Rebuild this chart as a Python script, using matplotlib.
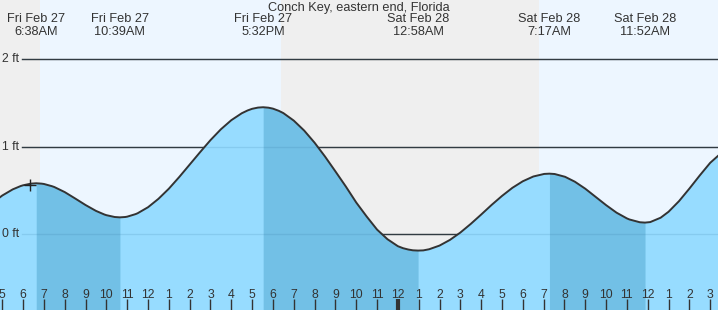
import matplotlib
matplotlib.use('Agg')
from matplotlib import pyplot as plt
import numpy as np

# hours counted from Fri Feb 27 00:00
tide_hours = [4.5, 5.0, 5.5, 5.88, 6.0, 6.38, 6.63, 6.88, 7.0, 7.38, 7.5, 8.0, 8.5, 9.0, 9.5, 9.9,
              10.0, 10.4, 10.65, 10.9, 11.0, 11.4, 11.5, 12.0, 12.5, 13.0, 13.5, 14.0, 14.5, 15.0,
              15.5, 16.0, 16.5, 16.78, 17.0, 17.28, 17.53, 17.78, 18.0, 18.28, 18.5, 19.0, 19.5,
              20.0, 20.5, 21.0, 21.5, 22.0, 22.5, 23.0, 23.5, 24.0, 24.25, 24.5, 24.72, 24.97,
              25.22, 25.5, 26.0, 26.5, 27.0, 27.5, 28.0, 28.5, 29.0, 29.5, 30.0, 30.5, 30.53,
              31.03, 31.28, 31.53, 32.03, 32.5, 33.0, 33.5, 34.0, 34.5, 35.0, 35.12, 35.62, 35.87,
              36.12, 36.62, 37.0, 37.5, 38.0, 38.5, 39.0, 39.5]
tide_ft = [0.35, 0.44, 0.51, 0.548, 0.557, 0.576, 0.58, 0.576, 0.572, 0.547, 0.537, 0.479, 0.406,
           0.331, 0.264, 0.223, 0.215, 0.194, 0.19, 0.194, 0.198, 0.227, 0.237, 0.306, 0.402,
           0.518, 0.652, 0.794, 0.936, 1.074, 1.198, 1.302, 1.381, 1.413, 1.432, 1.446, 1.45,
           1.445, 1.434, 1.409, 1.383, 1.297, 1.183, 1.044, 0.886, 0.716, 0.543, 0.36, 0.2,
           0.05, -0.06, -0.14, -0.163, -0.178, -0.187, -0.19, -0.188, -0.175, -0.133, -0.068,
           0.016, 0.115, 0.222, 0.332, 0.435, 0.528, 0.603, 0.657, 0.659, 0.687, 0.69, 0.686,
           0.654, 0.598, 0.518, 0.424, 0.33, 0.244, 0.178, 0.166, 0.134, 0.13, 0.136, 0.186,
           0.254, 0.375, 0.519, 0.67, 0.814, 0.92]

event_hours = [6.63, 10.65, 17.53, 24.97, 31.28, 35.87]
event_days = ['Fri Feb 27', 'Fri Feb 27', 'Fri Feb 27', 'Sat Feb 28', 'Sat Feb 28', 'Sat Feb 28']
event_times = ['6:38AM', '10:39AM', '5:32PM', '12:58AM', '7:17AM', '11:52AM']

# high -> low stretches (falling tide)
falling = [(6.63, 10.65), (17.53, 24.97), (31.28, 35.87)]

daylight = [(6.81, 18.39), (30.78, 41.0)]

tick_hours = list(range(5, 40))
tick_labels = ['5', '6', '7', '8', '9', '10', '11', '12', '1', '2', '3', '4', '5', '6', '7', '8',
               '9', '10', '11', '12', '1', '2', '3', '4', '5', '6', '7', '8', '9', '10', '11', '12',
               '1', '2', '3']

levels = [0, 1, 2]
level_labels = ['0 ft', '1 ft', '2 ft']

title = 'Conch Key, eastern end, Florida'
now_hour, now_ft = 6.35, 0.56

W, H = 718, 310
x0, x1 = 4.89, 39.375
y0, y1 = -0.87, 2.677

plt.rcParams['font.family'] = ['Liberation Sans', 'DejaVu Sans']
fig = plt.figure(figsize=(W / 100, H / 100), dpi=100)
ax = fig.add_axes([0, 0, 1, 1])
ax.set_xlim(x0, x1)
ax.set_ylim(y0, y1)
ax.set_facecolor('#efefef')
ax.set_axisbelow(False)
for s in ax.spines.values():
  s.set_visible(False)

for a, b in daylight:
  ax.axvspan(a, b, color='#edf6ff', lw=0, zorder=0)

for lv in levels:
  ax.axhline(lv, xmin=22 / W, xmax=1, color='#333333', lw=1, zorder=1)

t = np.array(tide_hours)
h = np.array(tide_ft)
ax.fill_between(t, h, y0, color='#97dcff', lw=0, zorder=2)
for a, b in falling:
  m = (t >= a) & (t <= b)
  ax.fill_between(t, h, y0, where=m, color='#72c0e6', lw=0, zorder=2)

# grid faintly visible through the water
for lv in levels:
  ax.axhline(lv, xmin=22 / W, xmax=1, color='#2a6f99', lw=1, alpha=0.15, zorder=3)

ax.plot(t, h, color='#333333', lw=1.4, zorder=4)
ax.plot([now_hour], [now_ft], marker='+', ms=9, mew=1, color='#222222', zorder=5)

for lv, lab in zip(levels, level_labels):
  ax.text(2 / W, lv, lab, transform=ax.get_yaxis_transform(), ha='left', va='center',
          fontsize=8.8, color='#333333', zorder=6)

ax.set_xticks(tick_hours)
ax.set_xticklabels(tick_labels)
ax.set_yticks([])
ax.tick_params(axis='x', direction='in', length=8, width=1, color='#333333',
               labelcolor='#333333', labelsize=8.8, pad=-15)
ax.xaxis.get_major_ticks()[tick_hours.index(24)].tick1line.set_markeredgewidth(3)

fig.text(0.5, 1 - 7.5 / H, title, ha='center', va='center', fontsize=9.2, color='#333333')
for eh, d, tm in zip(event_hours, event_days, event_times):
  xf = (eh - x0) / (x1 - x0)
  fig.text(xf, 1 - 19.5 / H, d, ha='center', va='center', fontsize=9.2, color='#333333')
  fig.text(xf, 1 - 32 / H, tm, ha='center', va='center', fontsize=9.2, color='#333333')

fig.savefig('out.png', dpi=100)
